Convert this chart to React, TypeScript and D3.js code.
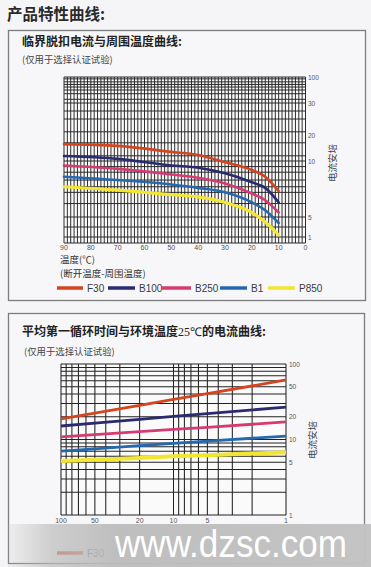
import React from 'react';
import * as d3 from 'd3';

// chart 1: trip current vs ambient temperature
const temps1 = [90, 70, 50, 40, 30, 20, 15, 10];
const f30 = [16.5, 15.8, 13.5, 12.3, 9.9, 9.2, 8.6, 7.3];
const b100 = [11.9, 10.8, 9.6, 9.4, 8.9, 8.1, 7.6, 6.3];
const b250 = [9.6, 9.3, 8.8, 8.5, 8.0, 7.1, 6.5, 5.4];
const b1 = [8.6, 8.3, 7.9, 7.6, 7.2, 6.3, 5.6, 3.8];
const p850 = [7.7, 7.4, 7.0, 6.8, 6.3, 5.4, 4.0, 1.4];
const xTicks1 = [90, 80, 70, 60, 50, 40, 30, 20, 10, 0];
const yTicks1 = [100, 30, 20, 10, 5, 1];
const yGrid1 = [100, 95, 87, 80, 73, 65, 55, 40, 30, 27.5, 25, 21, 17, 12, 10, 9.5, 9, 8.3, 7.7, 7.2, 6.2, 5, 3, 1, 0];

// chart 2: mean first-cycle time at 25C
const times2 = [100, 50, 20, 10, 5, 1];
const f30b = [18.7, 22.3, 28.4, 33.9, 40.4, 61.4];
const b100b = [15.1, 16.5, 18.5, 20.2, 22.0, 26.9];
const b250b = [10.8, 11.6, 12.7, 13.6, 14.5, 17.1];
const b1b = [7.0, 7.5, 8.3, 8.9, 9.5, 11.1];
const p850b = [5.2, 5.4, 5.7, 6.0, 6.2, 6.8];
const ticks2 = [100, 50, 20, 10, 5, 1];
const grid2 = [1, 2, 3, 4, 5, 6, 7, 8, 9, 10, 20, 30, 40, 50, 60, 70, 80, 90, 100];

const seriesNames = ['F30', 'B100', 'B250', 'B1', 'P850'];
const colors = ['#d4451f', '#2a2a70', '#d63a72', '#2468b2', '#f2e631'];

const cjk = '"Noto Sans CJK SC", sans-serif';
const latin = '"Liberation Sans", Arial, sans-serif';

export default function App() {
  // scales chart 1
  const x1 = d3.scaleLinear().domain([90, 0]).range([64, 305.5]);
  const y1 = d3.scaleLinear().domain([0, 1, 5, 10, 20, 30, 100]).range([243, 237, 217, 161, 135, 103, 77]);
  const vGrid1 = d3.range(0, 90.01, 1.25);
  const line1 = d3.line<[number, number]>().x(d => x1(d[0])).y(d => y1(d[1])).curve(d3.curveMonotoneX);
  const data1 = [f30, b100, b250, b1, p850];

  // scales chart 2
  const x2 = d3.scaleLog().domain([100, 1]).range([61, 286]);
  const y2 = d3.scaleLog().domain([1, 100]).range([515, 364]);
  const line2 = d3.line<[number, number]>().x(d => x2(d[0])).y(d => y2(d[1]));
  const data2 = [f30b, b100b, b250b, b1b, p850b];

  const legendX = [57, 108, 162, 220, 268];
  const legendW = [26, 27, 29, 27, 27];

  // n = how many legend items are visible (the rest sit under the watermark)
  const legend = (y: number, n: number) => (
    <g>
      {seriesNames.slice(0, n).map((name, i) => (
        <g key={name}>
          <line x1={legendX[i]} x2={legendX[i] + legendW[i]} y1={y} y2={y} stroke={colors[i]} strokeWidth={3.5} />
          <text x={legendX[i] + legendW[i] + 4} y={y + 3.5} fontSize={10} fill="#3a3a3a" fontFamily={latin}>{name}</text>
        </g>
      ))}
    </g>
  );

  return (
    <svg width={371} height={567} style={{ position: 'absolute', left: 0, top: 0, background: '#f5f5f7' }}>
      <defs>
        <linearGradient id="wm" x1="0" x2="1" y1="0" y2="0">
          <stop offset="0" stopColor="#bcbcbc" stopOpacity={0.15} />
          <stop offset="0.12" stopColor="#bcbcbc" stopOpacity={0.7} />
          <stop offset="0.3" stopColor="#bcbcbc" stopOpacity={0.96} />
          <stop offset="1" stopColor="#c2c2c2" stopOpacity={0.97} />
        </linearGradient>
      </defs>
      <rect x={0} y={0} width={371} height={567} fill="#f5f5f7" />
      <text x={7} y={20} fontSize={15.5} fontWeight="bold" fill="#2a2a2a" fontFamily={cjk}>产品特性曲线:</text>

      {/* panel 1 */}
      <rect x={8.5} y={30.5} width={357} height={270} fill="#f7f7f9" stroke="#7d7d7d" strokeWidth={1.3} />
      <text x={22} y={46} fontSize={12} fontWeight="bold" fill="#222" fontFamily={cjk}>临界脱扣电流与周围温度曲线:</text>
      <text x={22} y={63} fontSize={9.4} fill="#444" fontFamily={cjk}>(仅用于选择认证试验)</text>

      <g>
        <rect x={64} y={77} width={241.5} height={166} fill="#fafafa" />
        {vGrid1.map(v => (
          <line key={'v' + v} x1={x1(v)} x2={x1(v)} y1={77} y2={243} stroke="#222" strokeWidth={0.95} />
        ))}
        {yGrid1.map(v => (
          <line key={'h' + v} x1={64} x2={305.5} y1={y1(v)} y2={y1(v)} stroke="#222" strokeWidth={0.95} />
        ))}
        {data1.map((s, i) => (
          <path key={i} d={line1(temps1.map((t, j) => [t, s[j]] as [number, number])) || ''}
            fill="none" stroke={colors[i]} strokeWidth={i === 4 ? 3.2 : 2.6} strokeLinecap="round" />
        ))}
        {xTicks1.map(t => (
          <text key={'xt' + t} x={x1(t)} y={250} fontSize={7} fill="#555" textAnchor="middle" fontFamily={latin}>{t}</text>
        ))}
        {yTicks1.map(t => (
          <text key={'yt' + t} x={308} y={y1(t) + 2.5} fontSize={6.5} fill="#555" fontFamily={latin}>{t}</text>
        ))}
        <text transform="translate(336,163) rotate(-90)" fontSize={9.5} fill="#444" textAnchor="middle" fontFamily={cjk}>电流安培</text>
        <text x={60} y={263} fontSize={9.5} fill="#333" fontFamily={cjk}>温度(℃)</text>
        <text x={60} y={277} fontSize={9.5} fill="#333" fontFamily={cjk}>(断开温度-周围温度)</text>
        {legend(288, 5)}
      </g>

      {/* panel 2 */}
      <rect x={8.5} y={313.5} width={356} height={250} fill="#f7f7f9" stroke="#7d7d7d" strokeWidth={1.3} />
      <text x={22} y={336} fontSize={12} fontWeight="bold" fill="#222" fontFamily={cjk}>
        平均第一循环时间与环境温度<tspan fontFamily='"Liberation Serif", serif' fontWeight="normal">25℃</tspan>的电流曲线:
      </text>
      <text x={24} y={355} fontSize={9.4} fill="#444" fontFamily={cjk}>(仅用于选择认证试验)</text>

      <g>
        <rect x={61} y={364} width={225} height={151} fill="#fafafa" />
        {grid2.map(v => (
          <line key={'v2' + v} x1={x2(v)} x2={x2(v)} y1={364} y2={515} stroke="#222" strokeWidth={1.05} />
        ))}
        {grid2.map(v => (
          <line key={'h2' + v} x1={61} x2={286} y1={y2(v)} y2={y2(v)} stroke="#222" strokeWidth={1.05} />
        ))}
        {data2.map((s, i) => (
          <path key={i} d={line2(times2.map((t, j) => [t, s[j]] as [number, number])) || ''}
            fill="none" stroke={colors[i]} strokeWidth={i === 4 ? 4 : 2.8} />
        ))}
        {ticks2.map(t => (
          <text key={'xt2' + t} x={x2(t)} y={523} fontSize={7} fill="#555" textAnchor="middle" fontFamily={latin}>{t}</text>
        ))}
        {ticks2.map(t => (
          <text key={'yt2' + t} x={289} y={y2(t) + 2.5} fontSize={6.5} fill="#555" fontFamily={latin}>{t}</text>
        ))}
        <text transform="translate(316,440) rotate(-90)" fontSize={9.5} fill="#444" textAnchor="middle" fontFamily={cjk}>电流安培</text>
        {legend(553, 1)}
      </g>

      {/* site watermark band */}
      <rect x={8} y={524} width={363} height={43} fill="url(#wm)" />
      <text x={115} y={557} fontSize={38} fill="#ffffff" textLength={232} lengthAdjust="spacingAndGlyphs" fontFamily={latin}>www.dzsc.com</text>
    </svg>
  );
}
